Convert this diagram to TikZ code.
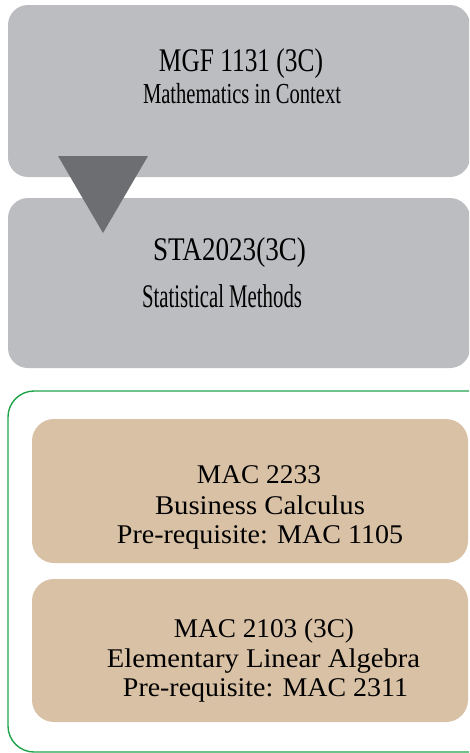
\documentclass[tikz,border=0pt]{standalone}
\usepackage{fontspec}
\setmainfont{Liberation Serif}
\usepackage{graphicx}
\definecolor{boxgray}{HTML}{BCBDC0}
\definecolor{arrowgray}{HTML}{6D6E71}
\definecolor{tan}{HTML}{D9C1A6}
\definecolor{framegreen}{HTML}{1FA34A}
\tikzset{
  graybox/.style={fill=boxgray, rounded corners=20pt, inner sep=0pt},
  tanbox/.style={fill=tan, rounded corners=22pt, inner sep=0pt},
  txt/.style={inner sep=0pt, anchor=base, text=black},
  frame/.style={draw=framegreen, line width=1.4pt, rounded corners=26pt},
}
\newcommand{\fitw}[3]{\resizebox{#1pt}{\height}{\fontsize{#2}{#2}\selectfont #3}}
\begin{document}
\begin{tikzpicture}[x=1pt,y=-1pt]
\useasboundingbox (0,0) rectangle (469,753);
\clip (0,0) rectangle (469,753);
% gray boxes
\node[graybox, minimum width=462pt, minimum height=172pt] (b1) at (239,91) {};
\node[graybox, minimum width=462pt, minimum height=170pt] (b2) at (239,283) {};
% arrow
\fill[arrowgray] (58,156) -- (148,156) -- (103,233) -- cycle;
% texts top
\node[txt] (t1a) at (241,71) {\fitw{164}{33}{MGF 1131 (3C)}};
\node[txt] (t1b) at (242,103) {\fitw{198}{29}{Mathematics in Context}};
\node[txt] (t2a) at (229.5,260) {\fitw{153}{33}{STA2023(3C)}};
\node[txt] (t2b) at (222,307) {\fitw{160}{33}{Statistical Methods}};
% green frame
\draw[frame] (8,391) rectangle (500,752);
% tan boxes
\node[tanbox, minimum width=436pt, minimum height=144pt] (c1) at (250,491) {};
\node[tanbox, minimum width=436pt, minimum height=143pt] (c2) at (250,650.5) {};
\node[txt] (c1a) at (259,483) {\fitw{124}{27}{MAC 2233}};
\node[txt] (c1b) at (260,514) {\fitw{210}{27}{Business Calculus}};
\node[txt] (c1c) at (260,543) {\fitw{286}{27}{Pre-requisite: MAC 1105}};
\node[txt] (c2a) at (264,637) {\fitw{180}{27}{MAC 2103 (3C)}};
\node[txt] (c2b) at (263.5,667) {\fitw{313}{27}{Elementary Linear Algebra}};
\node[txt] (c2c) at (265.5,696) {\fitw{285}{27}{Pre-requisite: MAC 2311}};
\end{tikzpicture}
\end{document}
